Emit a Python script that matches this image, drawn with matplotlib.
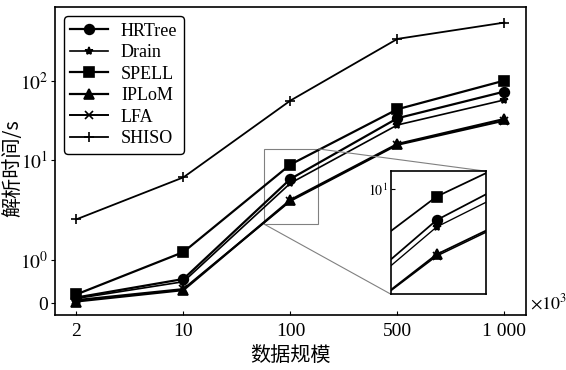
import numpy as np
import matplotlib
matplotlib.use("Agg")
import matplotlib.pyplot as plt
from mpl_toolkits.axes_grid1.inset_locator import mark_inset

plt.rcParams['font.family'] = ['Liberation Serif', 'DejaVu Serif']
plt.rcParams['mathtext.fontset'] = 'stix'

sizes = ['2', '10', '100', '500', '1 000']
hrtree = [0.128, 0.558, 6.46, 33.7, 73.3]
drain = [0.105, 0.495, 5.86, 27.7, 57.5]
spell = [0.20, 1.20, 9.0, 43.8, 101]
iplom = [0.035, 0.30, 3.98, 15.9, 33.0]
lfa = [0.07, 0.326, 3.89, 15.5, 31.4]
shiso = [2.55, 6.7, 56.4, 340, 547]

series = [
    ('HRTree', hrtree, 'o', 1.6, 7),
    ('Drain', drain, '*', 1.2, 6),
    ('SPELL', spell, 's', 1.6, 7),
    ('IPLoM', iplom, '^', 1.6, 7),
    ('LFA', lfa, 'x', 1.4, 6),
    ('SHISO', shiso, '+', 1.3, 7),
]


# piecewise axis: linear 0..1, then one decade per step (top decade squeezed)
def fwd(y):
    y = np.asarray(y, dtype=float)
    ly = np.log10(np.maximum(y, 1e-12))
    return np.where(y <= 1, 0.43 * y,
                    np.where(y <= 10, 0.43 + ly, 1.43 + 0.79 * (ly - 1)))


def inv(t):
    t = np.asarray(t, dtype=float)
    return np.where(t <= 0.43, t / 0.43,
                    np.where(t <= 1.43, 10 ** (t - 0.43),
                             10 ** (1 + (t - 1.43) / 0.79)))


x = np.arange(len(sizes))

fig = plt.figure(figsize=(5.66, 3.70), dpi=100)
ax = fig.add_axes([0.0972, 0.1486, 0.8318, 0.8314])
for name, vals, m, lw, ms in series:
    ax.plot(x, vals, color='black', marker=m, lw=lw, ms=ms, mew=1.2, label=name)

ax.set_yscale('function', functions=(fwd, inv))
ax.set_xlim(-0.2, 4.2)
ax.set_ylim(-0.279, 851)
ax.set_xticks(x)
ax.set_xticklabels(sizes)
ax.set_yticks([0, 1, 10, 100])
ax.set_yticklabels(['0', '$10^0$', '$10^1$', '$10^2$'])
ax.minorticks_off()
ax.tick_params(axis='x', direction='in', length=3, labelsize=14, pad=6)
ax.tick_params(axis='y', direction='out', length=3, labelsize=14, pad=2)
for s in ax.spines.values():
    s.set_linewidth(1.2)

ax.set_xlabel('数据规模', family=['Noto Sans CJK SC', 'DejaVu Sans'], fontsize=14.5, labelpad=3)
ax.set_ylabel('解析时间/s', family=['Noto Sans CJK SC', 'DejaVu Sans'], fontsize=14.5)
ax.yaxis.set_label_coords(-0.068, 0.478)
fig.text(0.936, 0.181, r'$\times10^3$', fontsize=13, va='center', ha='left')

leg = ax.legend(loc='upper left', fontsize=13, labelspacing=0.25, handlelength=2.1,
                handletextpad=0.7, borderpad=0.35, borderaxespad=0.5,
                frameon=True, fancybox=True, framealpha=1)
leg.get_frame().set_edgecolor('black')
leg.get_frame().set_linewidth(1.0)

# zoomed inset around x = 100
axins = fig.add_axes([0.690, 0.2054, 0.168, 0.332])
for name, vals, m, lw, ms in series:
    axins.plot(x, vals, color='black', marker=m, lw=lw * 0.8, ms=ms, mew=1.2)
axins.set_yscale('function', functions=(fwd, inv))
axins.set_xlim(1.757, 2.259)
axins.set_ylim(2.275, 13.8)
axins.set_xticks([])
axins.set_yticks([10])
axins.set_yticklabels(['$10^1$'])
axins.minorticks_off()
axins.tick_params(axis='y', direction='in', length=3, labelsize=10, pad=2)
for s in axins.spines.values():
    s.set_linewidth(1.2)

mark_inset(ax, axins, loc1=1, loc2=3, fc='none', ec='0.5', lw=0.8)

fig.savefig('out.png', dpi=100)
